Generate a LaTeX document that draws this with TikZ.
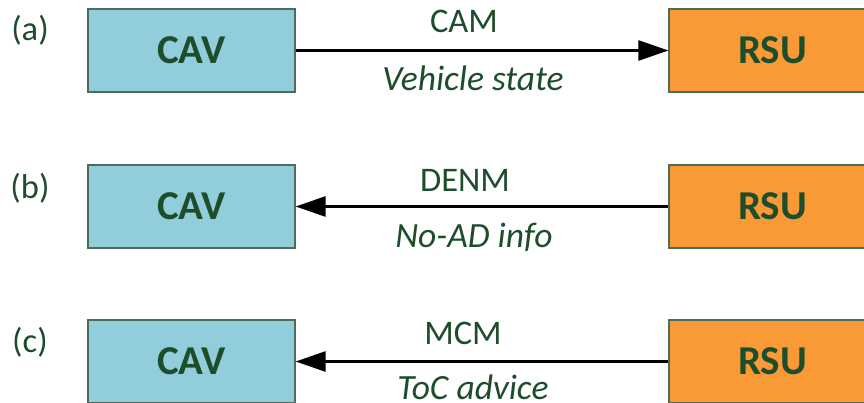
\documentclass[tikz,border=0pt]{standalone}
\usepackage{fontspec}
\setmainfont{Carlito}
\usetikzlibrary{arrows.meta}
\definecolor{cavblue}{HTML}{92CDDC}
\definecolor{rsuorange}{HTML}{F99A36}
\definecolor{txtgreen}{HTML}{1E4D2B}
\definecolor{boxline}{HTML}{4E6B5C}
\tikzset{
  box/.style={draw=boxline, line width=1.2pt, minimum width=207pt, minimum height=83pt, inner sep=0pt,
    font=\fontsize{41}{44}\selectfont\bfseries, text=txtgreen},
  cav/.style={box, fill=cavblue},
  rsu/.style={box, fill=rsuorange},
  lbl/.style={font=\fontsize{34.5}{36}\selectfont, text=txtgreen, inner sep=0pt},
  sub/.style={lbl, font=\fontsize{35.5}{38}\selectfont\itshape},
  msg/.style={line width=2.6pt, -{Triangle[length=30pt,width=20pt]}}
}
\begin{document}
\begin{tikzpicture}[x=1pt,y=-1pt]
\useasboundingbox (0,0) rectangle (864,402);
% row a
\node[lbl] (la) at (30,30) {(a)};
\node[cav] (cava) at (191.5,50.5) {CAV};
\node[rsu] (rsua) at (772.5,50.5) {RSU};
\draw[msg] (cava.east) -- (rsua.west);
\node[lbl] (ma) at (464,21) {CAM};
\node[sub] (sa) at (473,78) {Vehicle state};
% row b
\node[lbl] (lb) at (30,188) {(b)};
\node[cav] (cavb) at (191.5,206.5) {CAV};
\node[rsu] (rsub) at (772.5,206.5) {RSU};
\draw[msg] (rsub.west) -- (cavb.east);
\node[lbl] (mb) at (465,180) {DENM};
\node[sub] (sb) at (474,237) {No-AD info};
% row c
\node[lbl] (lc) at (30,342) {(c)};
\node[cav] (cavc) at (191.5,361.5) {CAV};
\node[rsu] (rsuc) at (772.5,361.5) {RSU};
\draw[msg] (rsuc.west) -- (cavc.east);
\node[lbl] (mc) at (463,333) {MCM};
\node[sub] (sc) at (473,387) {ToC advice};
\end{tikzpicture}
\end{document}
